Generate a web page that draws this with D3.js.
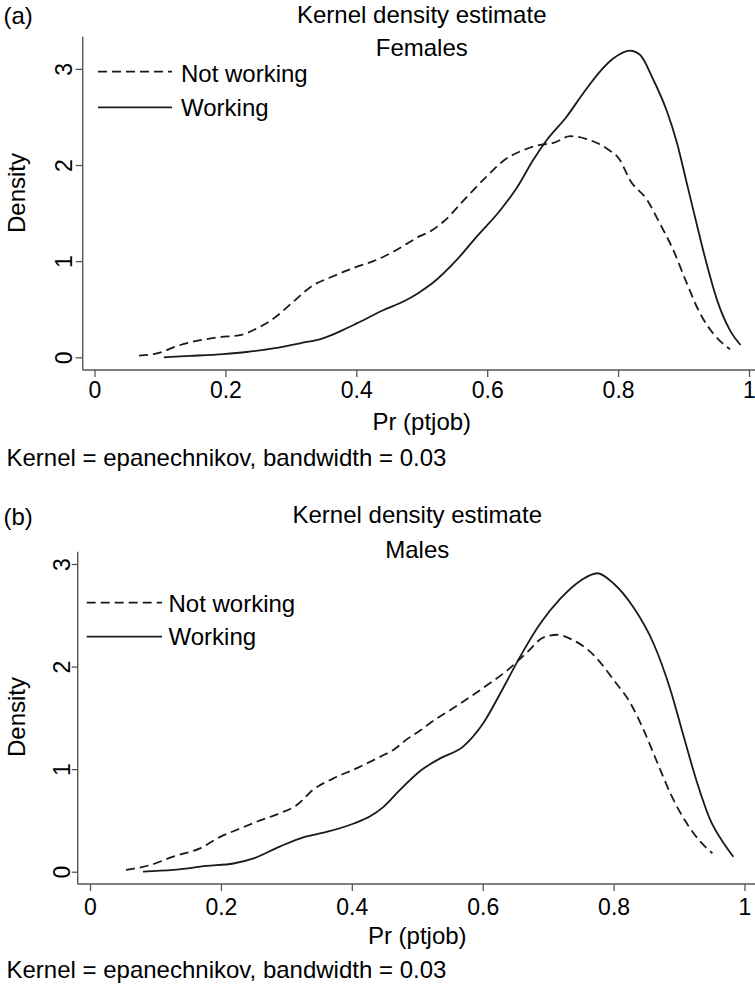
<!DOCTYPE html>
<html>
<head>
<meta charset="utf-8">
<script src="https://cdn.jsdelivr.net/npm/d3@7"></script>
<style>
  body { margin: 0; background: #fff; }
  svg { display: block; font-family: "Liberation Sans", Arial, Helvetica, sans-serif; }
</style>
</head>
<body>
<svg width="755" height="988"></svg>
<script>
// ---- data: [Pr(ptjob), density] ----
const xTicks = [0, 0.2, 0.4, 0.6, 0.8, 1];
const yTicks = [0, 1, 2, 3];
const seriesNames = ['Not working', 'Working'];
const panelTags = ['(a)', '(b)'];
const panelGroups = ['Females', 'Males'];

const femalesNotWorking = [
  [0.068, 0.017], [0.095, 0.04], [0.131, 0.128], [0.156, 0.17], [0.192, 0.21],
  [0.222, 0.23], [0.248, 0.30], [0.273, 0.40], [0.304, 0.58], [0.334, 0.75],
  [0.36, 0.83], [0.40, 0.94], [0.426, 1.0], [0.457, 1.1], [0.477, 1.18],
  [0.497, 1.26], [0.513, 1.31], [0.533, 1.41], [0.569, 1.67], [0.599, 1.88],
  [0.63, 2.07], [0.65, 2.14], [0.681, 2.21], [0.701, 2.23], [0.727, 2.30],
  [0.752, 2.27], [0.783, 2.17], [0.803, 2.05], [0.818, 1.845], [0.844, 1.64],
  [0.864, 1.39], [0.884, 1.12], [0.905, 0.77], [0.925, 0.46], [0.945, 0.25],
  [0.971, 0.083]
];
const femalesWorking = [
  [0.106, 0.0], [0.146, 0.014], [0.197, 0.034], [0.232, 0.055], [0.273, 0.093],
  [0.314, 0.146], [0.35, 0.2], [0.375, 0.27], [0.40, 0.35], [0.441, 0.49],
  [0.472, 0.58], [0.495, 0.67], [0.518, 0.78], [0.553, 1.01], [0.584, 1.255],
  [0.62, 1.53], [0.645, 1.76], [0.670, 2.05], [0.691, 2.26], [0.721, 2.50],
  [0.747, 2.75], [0.772, 2.97], [0.793, 3.11], [0.818, 3.19], [0.833, 3.15],
  [0.854, 2.885], [0.874, 2.57], [0.89, 2.23], [0.905, 1.81], [0.92, 1.39],
  [0.935, 0.98], [0.951, 0.60], [0.971, 0.28], [0.987, 0.128]
];
const malesNotWorking = [
  [0.055, 0.017], [0.092, 0.065], [0.127, 0.146], [0.168, 0.228], [0.199, 0.34],
  [0.229, 0.42], [0.26, 0.50], [0.29, 0.57], [0.316, 0.65], [0.341, 0.80],
  [0.372, 0.91], [0.408, 1.01], [0.443, 1.12], [0.464, 1.19], [0.484, 1.29],
  [0.505, 1.38], [0.52, 1.45], [0.566, 1.64], [0.607, 1.82], [0.637, 1.96],
  [0.668, 2.14], [0.693, 2.285], [0.714, 2.31], [0.734, 2.27], [0.77, 2.11],
  [0.80, 1.87], [0.826, 1.64], [0.846, 1.38], [0.867, 1.06], [0.887, 0.76],
  [0.912, 0.47], [0.933, 0.29], [0.951, 0.18]
];
const malesWorking = [
  [0.081, 0.0], [0.127, 0.017], [0.178, 0.056], [0.219, 0.08], [0.25, 0.13],
  [0.29, 0.245], [0.326, 0.335], [0.357, 0.38], [0.403, 0.47], [0.428, 0.54],
  [0.448, 0.63], [0.474, 0.80], [0.504, 0.98], [0.535, 1.105], [0.57, 1.22],
  [0.601, 1.45], [0.627, 1.74], [0.657, 2.095], [0.688, 2.42], [0.719, 2.665],
  [0.75, 2.84], [0.775, 2.91], [0.80, 2.81], [0.83, 2.58], [0.861, 2.225],
  [0.887, 1.77], [0.907, 1.32], [0.928, 0.86], [0.948, 0.50], [0.968, 0.28],
  [0.983, 0.146]
];

// ---- layout of the two stacked panels ----
var panels = [
  {xRange: [94.5, 749], yRange: [357.3, 68.9], axisY: 370, axisX: 82.7, axisTop: 36.7,
   tagBase: 24, titleBase: 22.7, subBase: 56, tickBase: 398, xTitleBase: 430, noteBase: 466,
   densityX: 25, densityY: 193, yTick: 7, yPad: 4,
   legend: {x0: 98, x1: 172, y1: 71.7, y2: 107.3, tx: 181, b1: 81.7, b2: 115.5},
   notWorking: femalesNotWorking, working: femalesWorking},
  {xRange: [90, 744.5], yRange: [871.7, 564], axisY: 884, axisX: 77.7, axisTop: 551.7,
   tagBase: 525, titleBase: 523, subBase: 558, tickBase: 915, xTitleBase: 943.5, noteBase: 978,
   densityX: 25, densityY: 717, yTick: 6, yPad: 2,
   legend: {x0: 86.7, x1: 162, y1: 602.7, y2: 636.7, tx: 168.5, b1: 611.5, b2: 645},
   notWorking: malesNotWorking, working: malesWorking}
];

var svg = d3.select('svg');
var ink = '#1a1a1a';
var axisInk = '#555';

function drawPanel(p, i) {
  var g = svg.append('g');
  var x = d3.scaleLinear().domain([0, 1]).range(p.xRange);
  var y = d3.scaleLinear().domain([0, 3]).range(p.yRange);

  // x axis
  var xa = g.append('g')
    .attr('transform', 'translate(0,' + p.axisY + ')')
    .attr('color', axisInk)
    .call(d3.axisBottom(x).tickValues(xTicks).tickFormat(String).tickSize(7));
  xa.select('.domain').remove();
  xa.selectAll('line').attr('stroke-width', 1.3);
  xa.selectAll('text')
    .attr('dy', null)
    .attr('y', p.tickBase - p.axisY)
    .attr('fill', '#000')
    .style('font-size', '23px')
    .style('font-family', null);
  xa.attr('font-family', null).attr('font-size', null);

  // y axis, labels turned like in Stata
  var ya = g.append('g')
    .attr('transform', 'translate(' + p.axisX + ',0)')
    .attr('color', axisInk)
    .call(d3.axisLeft(y).tickValues(yTicks).tickFormat(String).tickSize(p.yTick));
  ya.select('.domain').remove();
  ya.selectAll('line').attr('stroke-width', 1.3);
  ya.selectAll('text')
    .attr('transform', 'rotate(-90)')
    .attr('x', 0)
    .attr('dy', null)
    .attr('y', -(p.yTick + p.yPad))
    .attr('text-anchor', 'middle')
    .attr('fill', '#000')
    .style('font-size', '23px');
  ya.attr('font-family', null).attr('font-size', null);

  // axis lines
  g.append('line')
    .attr('x1', p.axisX).attr('x2', 755)
    .attr('y1', p.axisY).attr('y2', p.axisY)
    .attr('stroke', axisInk).attr('stroke-width', 1.4);
  g.append('line')
    .attr('x1', p.axisX).attr('x2', p.axisX)
    .attr('y1', p.axisTop).attr('y2', p.axisY)
    .attr('stroke', axisInk).attr('stroke-width', 1.4);

  // density curves
  var line = d3.line()
    .x(d => x(d[0]))
    .y(d => y(d[1]))
    .curve(d3.curveMonotoneX);
  g.append('path')
    .datum(p.notWorking)
    .attr('d', line)
    .attr('fill', 'none')
    .attr('stroke', ink)
    .attr('stroke-width', 1.8)
    .attr('stroke-dasharray', '9,5');
  g.append('path')
    .datum(p.working)
    .attr('d', line)
    .attr('fill', 'none')
    .attr('stroke', ink)
    .attr('stroke-width', 1.8);

  // legend
  var L = p.legend;
  g.append('line')
    .attr('x1', L.x0).attr('x2', L.x1).attr('y1', L.y1).attr('y2', L.y1)
    .attr('stroke', ink).attr('stroke-width', 1.8).attr('stroke-dasharray', '9,5');
  g.append('line')
    .attr('x1', L.x0).attr('x2', L.x1).attr('y1', L.y2).attr('y2', L.y2)
    .attr('stroke', ink).attr('stroke-width', 1.8);
  g.append('text').attr('x', L.tx).attr('y', L.b1)
    .style('font-size', '24px').text(seriesNames[0]);
  g.append('text').attr('x', L.tx).attr('y', L.b2)
    .style('font-size', '24px').text(seriesNames[1]);

  // titles and notes
  var cx = (x(0) + x(1)) / 2;
  g.append('text').attr('x', 3.5).attr('y', p.tagBase)
    .style('font-size', '24px').text(panelTags[i]);
  g.append('text').attr('x', cx).attr('y', p.titleBase)
    .attr('text-anchor', 'middle').style('font-size', '24px')
    .text('Kernel density estimate');
  g.append('text').attr('x', cx).attr('y', p.subBase)
    .attr('text-anchor', 'middle').style('font-size', '24px')
    .text(panelGroups[i]);
  g.append('text')
    .attr('transform', 'translate(' + p.densityX + ',' + p.densityY + ') rotate(-90)')
    .attr('text-anchor', 'middle').style('font-size', '24px')
    .text('Density');
  g.append('text').attr('x', cx).attr('y', p.xTitleBase)
    .attr('text-anchor', 'middle').style('font-size', '24px')
    .text('Pr (ptjob)');
  g.append('text').attr('x', 6.5).attr('y', p.noteBase)
    .style('font-size', '24px')
    .text('Kernel = epanechnikov, bandwidth = 0.03');
}

panels.forEach(drawPanel);
</script>
</body>
</html>
